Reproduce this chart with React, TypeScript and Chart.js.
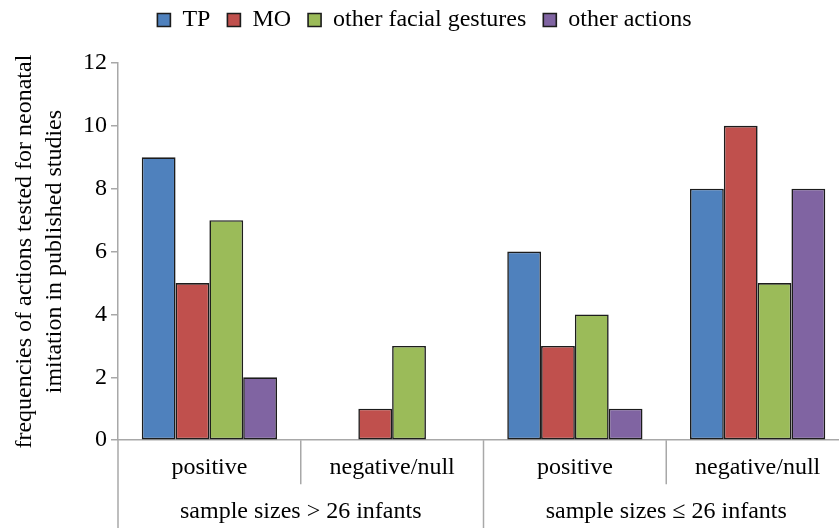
import React, { useEffect, useRef } from 'react';
import { Chart, registerables } from 'chart.js';

Chart.register(...registerables);

const categories = ['positive', 'negative/null', 'positive', 'negative/null'];
const groupLabels = ['sample sizes > 26 infants', 'sample sizes \u2264 26 infants'];
const seriesNames = ['TP', 'MO', 'other facial gestures', 'other actions'];
const tpValues = [9, 0, 6, 8];
const moValues = [5, 1, 3, 10];
const otherFacialValues = [7, 3, 4, 5];
const otherActionsValues = [2, 0, 1, 8];
const yTickValues = [0, 2, 4, 6, 8, 10, 12];
const yTitle = ['frequencies of actions tested for neonatal', 'imitation in published studies'];

const FONT = "'Liberation Serif', 'Times New Roman', serif";
const COLORS = ['#4f81bd', '#c0504d', '#9bbb59', '#8064a2'];
const AXIS_GRAY = '#a8a8a8';

const legendSpacer = {
  id: 'legendSpacer',
  beforeInit(chart: any) {
    const legend = chart.legend;
    if (!legend) return;
    const orig = legend.fit;
    legend.fit = function () {
      orig.call(this);
      this.height += 21;
    };
  },
};

const groupAxisPlugin = {
  id: 'groupAxis',
  afterDraw(chart: any) {
    const xs = chart.scales.x;
    const { ctx, chartArea } = chart;
    const bottom = chartArea.bottom;
    const H = chart.height;
    const n = categories.length;
    const bounds: number[] = [];
    for (let i = 0; i <= n; i++) {
      if (i === 0) bounds.push(chartArea.left);
      else if (i === n) bounds.push(chartArea.right);
      else bounds.push((xs.getPixelForValue(i - 1) + xs.getPixelForValue(i)) / 2);
    }
    const perGroup = n / groupLabels.length;
    ctx.save();
    ctx.strokeStyle = AXIS_GRAY;
    ctx.lineWidth = 1.5;
    bounds.forEach((bx, i) => {
      const edge = i % perGroup === 0;
      ctx.beginPath();
      ctx.moveTo(bx, bottom);
      ctx.lineTo(bx, edge ? H : bottom + 44);
      ctx.stroke();
    });
    ctx.fillStyle = '#000';
    ctx.font = `24px ${FONT}`;
    ctx.textAlign = 'center';
    ctx.textBaseline = 'alphabetic';
    groupLabels.forEach((g, gi) => {
      const l = bounds[gi * perGroup];
      const r = bounds[(gi + 1) * perGroup];
      ctx.fillText(g, (l + r) / 2, 518);
    });
    ctx.restore();
  },
};

export default function App() {
  const ref = useRef<HTMLCanvasElement | null>(null);

  useEffect(() => {
    if (!ref.current) return;
    const values = [tpValues, moValues, otherFacialValues, otherActionsValues];
    const chart = new Chart(ref.current, {
      type: 'bar',
      data: {
        labels: categories,
        datasets: seriesNames.map((name, i) => ({
          label: name,
          data: values[i],
          backgroundColor: COLORS[i],
          borderColor: '#1c1c1c',
          borderWidth: 1.6,
          borderSkipped: false,
          barPercentage: 1,
          categoryPercentage: 0.74,
        })),
      },
      options: {
        animation: false,
        responsive: false,
        devicePixelRatio: 1,
        layout: { padding: { top: -9, left: 0, right: 3, bottom: 41 } },
        plugins: {
          legend: {
            position: 'top',
            labels: {
              boxWidth: 13,
              boxHeight: 13,
              padding: 17,
              color: '#000',
              font: { family: FONT, size: 24 },
            },
          },
          tooltip: { enabled: false },
        },
        scales: {
          x: {
            grid: { display: false },
            border: { display: true, color: AXIS_GRAY, width: 1.5 },
            ticks: {
              color: '#000',
              padding: 5,
              font: { family: FONT, size: 24 },
              maxRotation: 0,
              autoSkip: false,
            },
          },
          y: {
            min: 0,
            max: 12,
            afterFit(scale: any) {
              scale.width = 118;
            },
            afterBuildTicks(scale: any) {
              scale.ticks = yTickValues.map((v) => ({ value: v }));
            },
            grid: {
              display: true,
              drawOnChartArea: false,
              tickLength: 7,
              color: AXIS_GRAY,
              lineWidth: 1.5,
            },
            border: { display: true, color: AXIS_GRAY, width: 1.5 },
            ticks: {
              color: '#000',
              padding: 4,
              font: { family: FONT, size: 24 },
            },
            title: {
              display: true,
              text: yTitle,
              color: '#000',
              font: { family: FONT, size: 24, lineHeight: 1.25 },
              padding: { top: 10, bottom: 0 },
            },
          },
        },
      },
      plugins: [legendSpacer, groupAxisPlugin],
    });
    return () => chart.destroy();
  }, []);

  return (
    <div
      style={{
        position: 'fixed',
        left: 0,
        top: 0,
        width: 839,
        height: 528,
        overflow: 'hidden',
        background: '#fff',
      }}
    >
      <canvas ref={ref} width={852} height={528} style={{ width: 852, height: 528, display: 'block' }} />
    </div>
  );
}
